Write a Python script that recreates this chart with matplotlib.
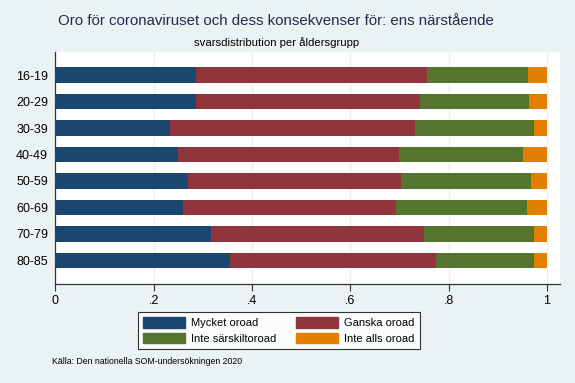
import matplotlib.pyplot as plt
import matplotlib.patches as mpatches
import numpy as np

plt.rcParams['font.family'] = ['Liberation Sans', 'DejaVu Sans']

# Data: andel per åldersgrupp
age_groups = ["16-19", "20-29", "30-39", "40-49", "50-59", "60-69", "70-79", "80-85"]
mycket = [0.287, 0.287, 0.234, 0.250, 0.270, 0.259, 0.317, 0.356]
ganska = [0.469, 0.455, 0.498, 0.449, 0.433, 0.434, 0.433, 0.418]
inte_sarskilt = [0.205, 0.221, 0.242, 0.252, 0.265, 0.266, 0.224, 0.200]
inte_alls = [0.039, 0.037, 0.026, 0.049, 0.032, 0.041, 0.026, 0.026]

labels = ["Mycket oroad", "Ganska oroad", "Inte särskiltoroad", "Inte alls oroad"]
colors = ["#1a476f", "#90353b", "#55752f", "#e37e00"]
bg = "#eaf2f3"

fig = plt.figure(figsize=(5.75, 3.83), dpi=100, facecolor=bg)
ax = fig.add_axes([55/575, 1 - 283.5/383, 505/575, 231.5/383])
ax.set_facecolor("white")

y = np.arange(len(age_groups))
left = np.zeros(len(age_groups))
handles = []
for vals, col, lab in zip([mycket, ganska, inte_sarskilt, inte_alls], colors, labels):
    ax.barh(y, vals, left=left, height=0.6, color=col, zorder=3)
    left = left + np.array(vals)
    handles.append(mpatches.Patch(color=col, label=lab))

ax.set_ylim(7.87, -0.87)
ax.set_xlim(-0.0005, 1.0264)
ax.set_yticks(y)
ax.set_yticklabels(age_groups, fontsize=9)
ax.tick_params(axis="y", length=0, pad=5)

ax.set_xticks([0, 0.2, 0.4, 0.6, 0.8, 1.0])
ax.set_xticklabels(["0", ".2", ".4", ".6", ".8", "1"], fontsize=9)
ax.tick_params(axis="x", length=5, width=0.8, color="#333333", pad=3)

ax.grid(axis="x", color=bg, linewidth=1, zorder=0)
for s in ["top", "right"]:
    ax.spines[s].set_visible(False)
for s in ["left", "bottom"]:
    ax.spines[s].set_color("#333333")
    ax.spines[s].set_linewidth(0.9)

fig.text(276/575, 1 - 21/383, "Oro för coronaviruset och dess konsekvenser för: ens närstående",
         ha="center", va="center", fontsize=10.8, color="#1f2d50")
fig.text(277/575, 1 - 43/383, "svarsdistribution per åldersgrupp",
         ha="center", va="center", fontsize=8.2, color="black")

# legend fylls radvis som i originalet
order = [0, 2, 1, 3]
leg = fig.legend(handles=[handles[i] for i in order], ncol=2, loc="center",
                 bbox_to_anchor=(279/575, 1 - 330.5/383),
                 fontsize=8, frameon=True, fancybox=False,
                 handlelength=3.7, handleheight=1.1, columnspacing=1.8,
                 borderpad=0.45, labelspacing=0.4, handletextpad=0.6)
leg.get_frame().set_edgecolor("black")
leg.get_frame().set_linewidth(0.8)

fig.text(52/575, 1 - 362/383, "Källa: Den nationella SOM-undersökningen 2020",
         ha="left", va="center", fontsize=6.3)

fig.savefig("out.png", dpi=100, facecolor=bg)
